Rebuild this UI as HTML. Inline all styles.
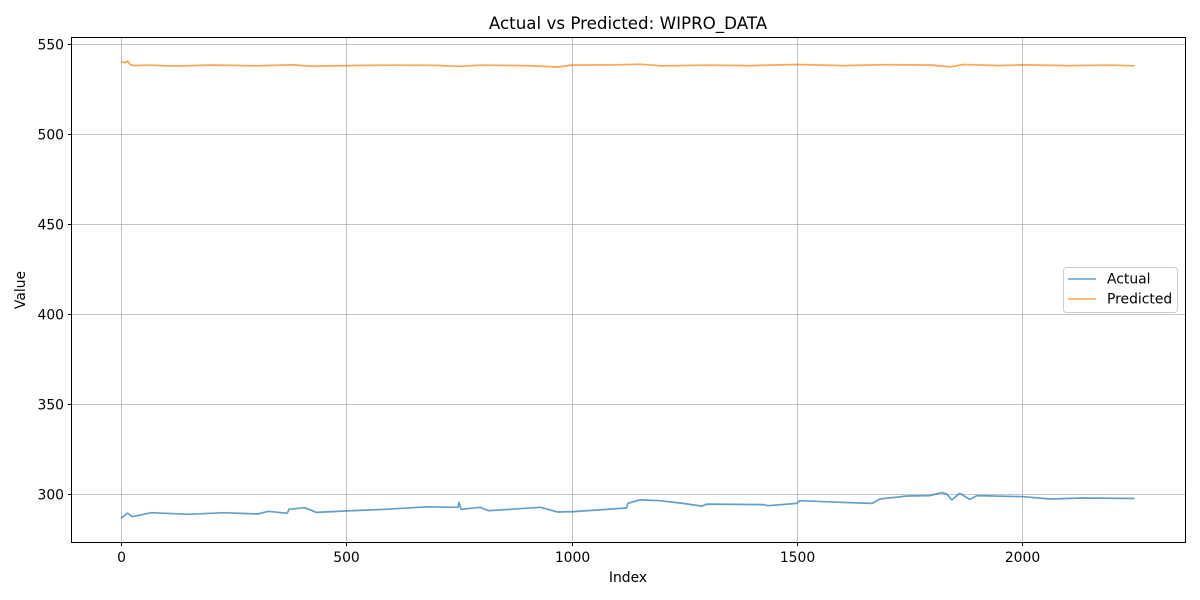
<!DOCTYPE html>
<html><head><meta charset="utf-8"><style>
html,body{margin:0;padding:0;background:#fff;}
svg{display:block;font-family:"DejaVu Sans","Liberation Sans",sans-serif;}
</style></head><body>
<svg id="chart" width="1200" height="600">
<rect x="0" y="0" width="1200" height="600" fill="#fff"/>
<text x="628" y="29" font-size="16.7" text-anchor="middle">Actual vs Predicted: WIPRO_DATA</text>
<g id="grid"></g>
<g id="ticks"></g>
<g id="series"></g>
<rect x="71.5" y="37.5" width="1114" height="505" fill="none" stroke="#000" stroke-width="1"/>
<text x="628" y="582" font-size="13.9" text-anchor="middle">Index</text>
<text x="25" y="290" font-size="13.9" text-anchor="middle" transform="rotate(-90 25 290)">Value</text>
<g>
<rect x="1063.5" y="267.5" width="114" height="45" rx="3" fill="#fff" fill-opacity="0.8" stroke="#ccc"/>
<g>
<line x1="1068" y1="279" x2="1096" y2="279" stroke="#1f77b4" stroke-opacity="0.7" stroke-width="1.5"/>
<text x="1107" y="283.5" font-size="13.9">Actual</text></g>
<g>
<line x1="1068" y1="299" x2="1096" y2="299" stroke="#ff7f0e" stroke-opacity="0.7" stroke-width="1.5"/>
<text x="1107" y="303.5" font-size="13.9">Predicted</text></g>
</g>
</svg>
<script>
const xTicks=[0,500,1000,1500,2000];
const yTicks=[300,350,400,450,500,550];
const actualIdx=[0,14,25,67,151,228,304,327,369,373,408,434,503,587,679,748,750,755,797,816,931,969,1004,1122,1125,1145,1152,1196,1247,1290,1301,1426,1436,1500,1507,1596,1667,1685,1745,1796,1822,1833,1844,1862,1884,1900,2003,2062,2135,2250];
const actualVal=[286.5,289.4,287.4,289.6,288.7,289.6,288.9,290.4,289.3,291.5,292.4,289.8,290.6,291.5,292.9,292.6,295.4,291.5,292.6,290.7,292.6,290.0,290.2,292.2,294.8,296.3,296.7,296.3,294.8,293.3,294.4,294.1,293.5,294.8,296.3,295.4,294.8,297.2,298.9,299.1,300.8,300.0,296.7,300.4,297.0,299.1,298.5,297.2,297.8,297.5];
const predIdx=[0,10,15,20,30,60,120,200,300,380,420,500,600,700,750,800,900,970,1000,1100,1150,1200,1300,1400,1500,1600,1700,1800,1840,1870,1950,2000,2100,2200,2250];
const predVal=[540.0,539.6,540.6,538.5,538.0,538.2,537.8,538.3,537.9,538.4,537.7,538.0,538.2,538.1,537.6,538.2,538.0,537.2,538.3,538.4,538.8,537.9,538.2,538.0,538.6,538.0,538.5,538.3,537.3,538.6,538.0,538.4,538.0,538.2,537.9];
const xs=v=>121+v*(1022-121)/2000;
const ys=v=>44+(550-v)*1.8;
const NS='http://www.w3.org/2000/svg';
const grid=document.getElementById('grid'),ticks=document.getElementById('ticks'),series=document.getElementById('series');
function mk(t,a,p){const e=document.createElementNS(NS,t);for(const k in a)e.setAttribute(k,a[k]);p.appendChild(e);return e;}
xTicks.forEach(v=>{const x=Math.round(xs(v))+0.5;
 const g=mk('line',{x1:x,y1:37.5,x2:x,y2:542.5,stroke:'#b0b0b0','stroke-width':0.8},grid);
 
 
 mk('line',{x1:x,y1:542.5,x2:x,y2:546,stroke:'#000'},ticks);
 const t=mk('text',{x:x,y:562,'font-size':13.9,'text-anchor':'middle'},ticks);t.textContent=v;
 
 });
yTicks.forEach(v=>{const y=Math.round(ys(v))+0.5;
 const g=mk('line',{x1:71.5,y1:y,x2:1185.5,y2:y,stroke:'#b0b0b0','stroke-width':0.8},grid);
 
 
 mk('line',{x1:68,y1:y,x2:71.5,y2:y,stroke:'#000'},ticks);
 const t=mk('text',{x:64,y:y+5,'font-size':13.9,'text-anchor':'end'},ticks);t.textContent=v;
 
 });
function line(idx,val,color,name){
 const d=idx.map((v,i)=>(i?'L':'M')+xs(v).toFixed(1)+','+ys(val[i]).toFixed(1)).join('');
 const p=mk('path',{d:d,fill:'none',stroke:color,'stroke-opacity':0.7,'stroke-width':1.7,'stroke-linejoin':'round'},series);
 
 }
line(actualIdx,actualVal,'#1f77b4','actual-line');
line(predIdx,predVal,'#ff7f0e','predicted-line');
</script>
</body></html>
